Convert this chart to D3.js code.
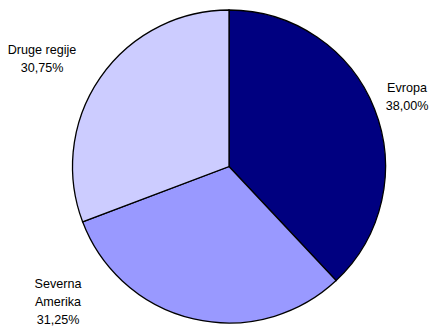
<!DOCTYPE html>
<html><head><meta charset="utf-8">
<script src="https://cdn.jsdelivr.net/npm/d3@7"></script>
<style>body{margin:0;background:#fff}</style>
</head><body>
<svg id="c" width="432" height="334"></svg>
<script>
const categories = ["Evropa", "Severna Amerika", "Druge regije"];
const values = [38.00, 31.25, 30.75];
const valueLabels = ["38,00%", "31,25%", "30,75%"];
const labelLines = [["Evropa"], ["Severna", "Amerika"], ["Druge regije"]];
const colors = ["#000080", "#9999FF", "#CCCCFF"];

const svg = d3.select("#c");
const cx = 229, cy = 166.5, r = 156.5;
const pie = d3.pie().sort(null).value(d => d)(values);
const arc = d3.arc().innerRadius(0).outerRadius(r);
const g = svg.append("g").attr("transform", `translate(${cx},${cy})`);
g.selectAll("path").data(pie).join("path")
  .attr("d", arc)
  .attr("fill", (d, i) => colors[i])
  .attr("stroke", "#000").attr("stroke-width", 1.3);

const labelPos = [[407, 92], [58, 288], [42, 54]];
labelPos.forEach((p, i) => {
  const lines = labelLines[i].concat([valueLabels[i]]);
  const t = svg.append("text").attr("x", p[0]).attr("y", p[1])
    .attr("text-anchor", "middle")
    .attr("font-family", "Liberation Sans, Arial, sans-serif")
    .attr("font-size", 12.6).attr("fill", "#000");
  lines.forEach((l, j) => t.append("tspan").attr("x", p[0]).attr("dy", j === 0 ? 0 : 18).text(l));
});
</script>
</body></html>
